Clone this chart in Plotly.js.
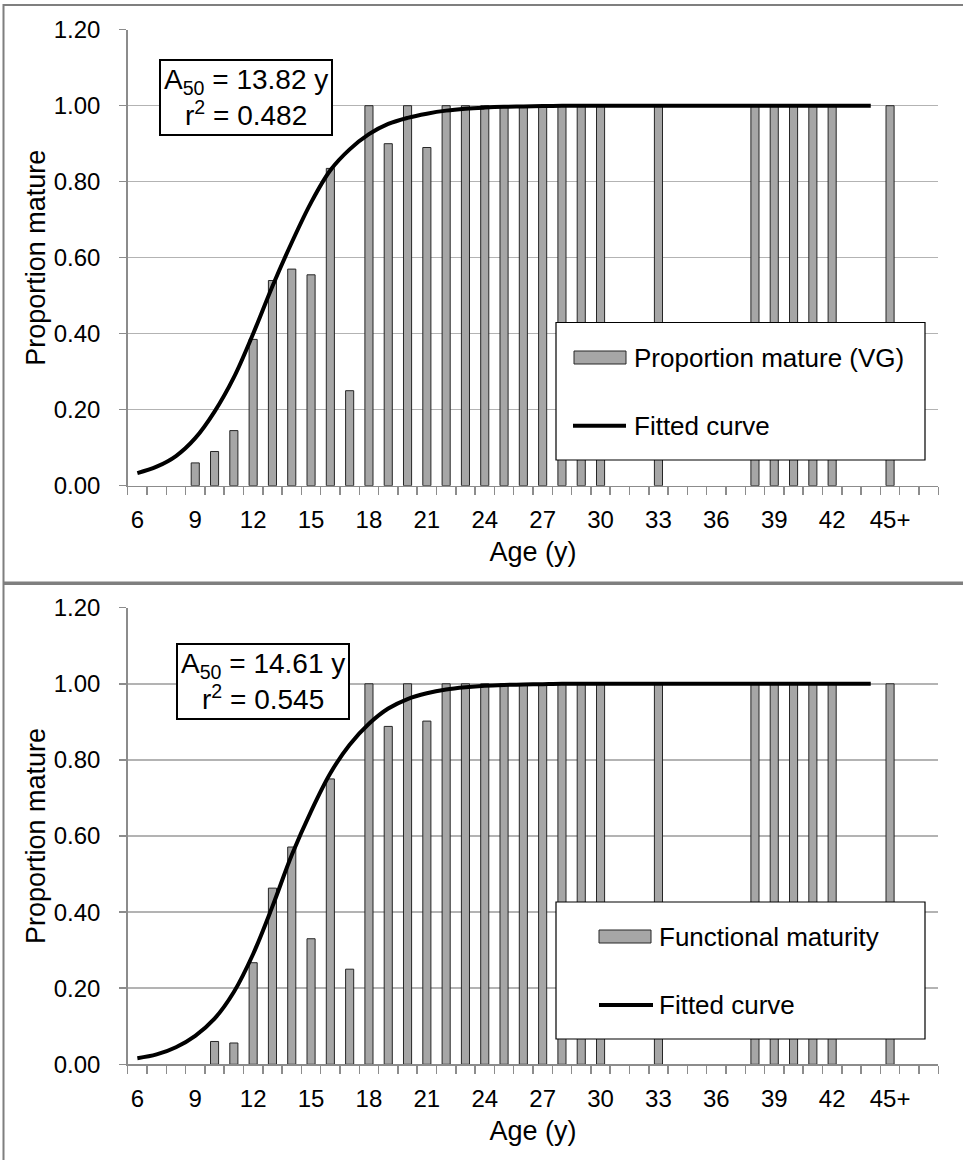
<!DOCTYPE html>
<html>
<head>
<meta charset="utf-8">
<script src="https://cdn.plot.ly/plotly-3.0.1.min.js"></script>
<style>html,body{margin:0;padding:0;background:#fff;}#chart{width:963px;height:1160px;}</style>
</head>
<body>
<div id="chart"></div>
<script>
// ---- data ----
const ages = [6,7,8,9,10,11,12,13,14,15,16,17,18,19,20,21,22,23,24,25,26,27,28,29,30,31,32,33,34,35,36,37,38,39,40,41,42,43,44,45];
const propMatureVG = [null,null,null,0.06,0.09,0.145,0.385,0.54,0.57,0.555,0.835,0.25,1,0.90,1,0.89,1,1,1,1,1,1,1,1,1,null,null,1,null,null,null,null,1,1,1,1,1,null,null,1];
const functionalMaturity = [null,null,null,null,0.06,0.056,0.267,0.463,0.571,0.33,0.75,0.25,1,0.888,1,0.902,1,1,1,1,1,1,1,1,1,null,null,1,null,null,null,null,1,1,1,1,1,null,null,1];
const curveAges = [6,7,8,9,10,11,12,13,14,15,16,17,18,19,20,21,22,23,24,25,26,27,28,29,30,31,32,33,34,35,36,37,38,39,40,41,42,43,44];
const fittedVG = [0.033,0.05,0.078,0.125,0.195,0.285,0.4,0.525,0.64,0.745,0.83,0.885,0.925,0.952,0.968,0.979,0.987,0.992,0.995,0.997,0.998,0.999,1,1,1,1,1,1,1,1,1,1,1,1,1,1,1,1,1];
const fittedFunctional = [0.016,0.026,0.045,0.075,0.12,0.19,0.29,0.415,0.55,0.665,0.765,0.84,0.895,0.935,0.96,0.975,0.985,0.991,0.995,0.997,0.998,0.999,1,1,1,1,1,1,1,1,1,1,1,1,1,1,1,1,1];
const tickAges = [6,9,12,15,18,21,24,27,30,33,36,39,42,45];
const tickLabels = ['6','9','12','15','18','21','24','27','30','33','36','39','42','45+'];
const legendTop = ['Proportion mature (VG)','Fitted curve'];
const legendBottom = ['Functional maturity','Fitted curve'];
const statsTop = ['A<sub>50</sub> = 13.82 y','r<sup>2</sup> = 0.482'];
const statsBottom = ['A<sub>50</sub> = 14.61 y','r<sup>2</sup> = 0.545'];

// ---- geometry helpers (pixel -> paper) ----
const W = 963, H = 1160;
const px = v => v / W;
const py = v => 1 - v / H;
const FONT = 'Liberation Sans, Arial, sans-serif';
const BAR = '#a6a6a6', AX = '#8c8c8c', GRID = '#b3b3b3';

function barTrace(y, name, xa, ya) {
  return {type:'bar', x: ages, y: y, name: name, xaxis: xa, yaxis: ya, width: 0.42,
    marker:{color: BAR, line:{color:'#262626', width:1}}, showlegend:false, hoverinfo:'x+y'};
}
function lineTrace(y, name, xa, ya) {
  return {type:'scatter', mode:'lines', x: curveAges, y: y, name: name, xaxis: xa, yaxis: ya,
    line:{color:'#000', width:4, shape:'spline', smoothing:1}, showlegend:false};
}

const traces = [
  barTrace(propMatureVG, legendTop[0], 'x', 'y'),
  lineTrace(fittedVG, legendTop[1], 'x', 'y'),
  barTrace(functionalMaturity, legendBottom[0], 'x2', 'y2'),
  lineTrace(fittedFunctional, legendBottom[1], 'x2', 'y2')
];

function xaxis(anchor) {
  return {
    anchor: anchor, domain:[px(127.7), px(938.3)], range:[5.5, 47.5],
    tickmode:'array', tickvals: tickAges, ticktext: tickLabels, ticks:'',
    ticklabelstandoff: 12,
    showline:true, linecolor: AX, linewidth:1.5, showgrid:false, zeroline:false,
    tickfont:{family: FONT, size:24, color:'#000'},
    minor:{tickmode:'linear', tick0:5.5, dtick:1, ticks:'outside', ticklen:8, tickcolor: AX, tickwidth:1.5, showgrid:false},
    title:{text:'Age (y)', font:{family: FONT, size:27, color:'#000'}, standoff: 10},
    fixedrange:true
  };
}
function yaxis(anchor, dom) {
  return {
    anchor: anchor, domain: dom, range:[0, 1.2], tickmode:'linear', tick0:0, dtick:0.2, tickformat:'.2f',
    ticks:'outside', ticklen:7, tickcolor: AX, tickwidth:1.5, ticklabelstandoff: 14,
    showline:true, linecolor: AX, linewidth:1.5, showgrid:true, gridcolor: GRID, gridwidth:1.5, zeroline:false,
    tickfont:{family: FONT, size:24, color:'#000'},
    title:{text:'Proportion mature', font:{family: FONT, size:27, color:'#000'}, standoff: 0},
    fixedrange:true
  };
}

function statsBox(lines, cx, cy) {
  return {xref:'paper', yref:'paper', x: px(cx), y: py(cy), xanchor:'center', yanchor:'middle',
    text: lines.join('<br>'), showarrow:false, align:'center',
    font:{family: FONT, size:28, color:'#000'}, bgcolor:'#fff', bordercolor:'#000', borderwidth:2, borderpad:3};
}

function legendShapes(box, sw, ln) {
  return [
    {type:'rect', xref:'paper', yref:'paper', x0:px(box[0]), x1:px(box[2]), y0:py(box[1]), y1:py(box[3]),
     fillcolor:'#fff', line:{color:'#000', width:1.2}, layer:'above'},
    {type:'rect', xref:'paper', yref:'paper', x0:px(sw[0]), x1:px(sw[2]), y0:py(sw[1]), y1:py(sw[3]),
     fillcolor: BAR, line:{color:'#262626', width:1}, layer:'above'},
    {type:'line', xref:'paper', yref:'paper', x0:px(ln[0]), x1:px(ln[1]), y0:py(ln[2]), y1:py(ln[2]),
     line:{color:'#000', width:4}, layer:'above'}
  ];
}
function legendText(t, x, y) {
  return {xref:'paper', yref:'paper', x: px(x), y: py(y), xanchor:'left', yanchor:'middle', text: t,
    showarrow:false, font:{family: FONT, size:26, color:'#000'}};
}

const shapes = [].concat(
  legendShapes([556,322.5,925,460], [574,351,626,364], [573,626,425.7]),
  legendShapes([556,902,925,1039], [599,930,651,943], [599,653,1005]),
  [
    {type:'line', xref:'paper', yref:'paper', x0:px(3.5), x1:px(3.5), y0:py(4), y1:py(1160), line:{color:'#7f7f7f', width:2}},
    {type:'line', xref:'paper', yref:'paper', x0:px(3), x1:px(963), y0:py(5), y1:py(5), line:{color:'#7f7f7f', width:2}},
    {type:'line', xref:'paper', yref:'paper', x0:px(3), x1:px(963), y0:py(583.3), y1:py(583.3), line:{color:'#7f7f7f', width:3.5}}
  ]
);

const annotations = [
  statsBox(statsTop, 245.5, 97),
  statsBox(statsBottom, 262.5, 681),
  legendText(legendTop[0], 632, 357.5),
  legendText(legendTop[1], 632, 425.7),
  legendText(legendBottom[0], 657, 936.7),
  legendText(legendBottom[1], 657, 1005)
];

const layout = {
  width: W, height: H, margin:{l:0, r:0, t:0, b:0},
  paper_bgcolor:'#fff', plot_bgcolor:'#fff', showlegend:false, bargap:0,
  font:{family: FONT, color:'#000'},
  xaxis: xaxis('y'), yaxis: yaxis('x', [py(485.7), py(29.7)]),
  xaxis2: xaxis('y2'), yaxis2: yaxis('x2', [py(1064.3), py(607.7)]),
  shapes: shapes, annotations: annotations
};

Plotly.newPlot('chart', traces, layout, {displayModeBar:false, staticPlot:true});
</script>
</body>
</html>
